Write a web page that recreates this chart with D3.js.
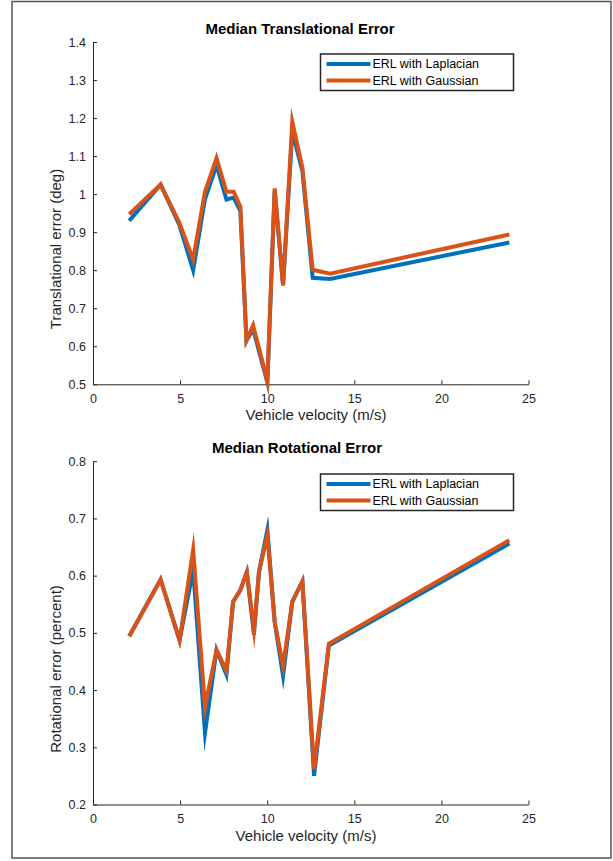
<!DOCTYPE html>
<html><head><meta charset="utf-8">
<script src="https://cdn.jsdelivr.net/npm/d3@7"></script>
<style>
body{margin:0;background:#fff;}
text{font-family:"Liberation Sans",Arial,Helvetica,sans-serif;}
</style></head>
<body><svg id="c" width="613" height="861"></svg>
<script>
// velocities (m/s)
const velTrans = [2.08,3.88,4.95,5.75,6.42,7.09,7.66,8.08,8.46,8.81,9.19,10.01,10.43,10.91,11.44,12.02,12.61,13.61,23.9];
const transLaplacian = [0.930,1.025,0.920,0.800,0.985,1.076,0.986,0.991,0.955,0.615,0.645,0.505,1.010,0.760,1.165,1.060,0.780,0.777,0.873];
const transGaussian  = [0.947,1.025,0.925,0.828,1.005,1.095,1.006,1.006,0.967,0.615,0.655,0.510,1.015,0.760,1.190,1.070,0.801,0.791,0.894];

const velRot = [2.08,3.88,4.97,5.75,6.43,7.09,7.66,8.04,8.46,8.83,9.24,9.53,10.01,10.43,10.91,11.44,12.02,12.69,13.54,23.9];
const rotLaplacian = [0.494,0.593,0.487,0.610,0.325,0.470,0.427,0.554,0.575,0.606,0.497,0.607,0.680,0.519,0.425,0.554,0.590,0.250,0.478,0.656];
const rotGaussian  = [0.494,0.593,0.487,0.645,0.370,0.470,0.434,0.554,0.575,0.606,0.505,0.607,0.670,0.519,0.442,0.554,0.590,0.262,0.481,0.662];

const xTicks = [0,5,10,15,20,25];
const transTicks = [0.5,0.6,0.7,0.8,0.9,1.0,1.1,1.2,1.3,1.4];
const rotTicks = [0.2,0.3,0.4,0.5,0.6,0.7,0.8];
const seriesNames = ["ERL with Laplacian","ERL with Gaussian"];
const colors = ["#0072BD","#D95319"];

const svg = d3.select("#c");
svg.append("rect").attr("x",12).attr("y",1.5).attr("width",599).attr("height",856.5)
  .attr("fill","none").attr("stroke","#555").attr("stroke-width",1.5);

const axCol = "#262626";
const x = d3.scaleLinear().domain([0,25]).range([93,528.5]);

function panel(opts){
  const y = d3.scaleLinear().domain(opts.domain).range([opts.bottom, opts.top]);
  const g = svg.append("g");
  const xa = g.append("g").attr("transform",`translate(0,${opts.bottom})`)
    .call(d3.axisBottom(x).tickValues(xTicks).tickFormat(d3.format("d")).tickSizeInner(-4).tickSizeOuter(0).tickPadding(8));
  const ya = g.append("g").attr("transform",`translate(${x.range()[0]},0)`)
    .call(d3.axisLeft(y).tickValues(opts.ticks).tickFormat(d=>d3.format("")(+d.toFixed(1))).tickSizeInner(-4).tickSizeOuter(0).tickPadding(7));
  [xa,ya].forEach(a=>{
    a.select(".domain").attr("stroke",axCol).attr("stroke-width",1);
    a.selectAll(".tick line").attr("stroke",axCol);
    a.selectAll(".tick text").attr("fill",axCol).attr("font-size",12.5);
  });
  xa.selectAll(".tick text").attr("dy","0.85em");
  const line = d3.line().x((d,i)=>x(opts.vel[i])).y(d=>y(d));
  opts.series.forEach((s,k)=>{
    g.append("path").datum(s).attr("d",line).attr("fill","none")
      .attr("stroke",colors[k]).attr("stroke-width",4)
      .attr("stroke-linejoin","miter").attr("stroke-miterlimit",10);
  });
  g.append("text").attr("x",opts.titleX).attr("y",opts.top-8)
    .attr("text-anchor","middle").attr("font-weight","bold").attr("font-size",15).attr("fill","#000").text(opts.title);
  g.append("text").attr("x",opts.xlabelX).attr("y",opts.bottom+36)
    .attr("text-anchor","middle").attr("font-size",15).attr("fill",axCol).text("Vehicle velocity (m/s)");
  g.append("text").attr("transform",`translate(61,${opts.ylabelY}) rotate(-90)`)
    .attr("text-anchor","middle").attr("font-size",15).attr("fill",axCol).text(opts.ylabel);
  const lg = g.append("g").attr("transform",`translate(320.5,${opts.legTop})`);
  lg.append("rect").attr("width",193).attr("height",36.5).attr("fill","#fff")
    .attr("stroke",axCol).attr("stroke-width",1.5);
  seriesNames.forEach((n,k)=>{
    const yy = 10 + k*16.5;
    lg.append("line").attr("x1",6).attr("x2",50).attr("y1",yy).attr("y2",yy)
      .attr("stroke",colors[k]).attr("stroke-width",4);
    lg.append("text").attr("x",52).attr("y",yy).attr("dy","0.35em")
      .attr("font-size",12.5).attr("fill","#000").text(n);
  });
}

panel({domain:[0.5,1.4], top:42, bottom:384.3, ticks:transTicks, vel:velTrans,
  series:[transLaplacian,transGaussian], title:"Median Translational Error",
  ylabel:"Translational error (deg)", legTop:54, titleX:300, xlabelX:316, ylabelY:249});
panel({domain:[0.2,0.8], top:461.2, bottom:804.5, ticks:rotTicks, vel:velRot,
  series:[rotLaplacian,rotGaussian], title:"Median Rotational Error",
  ylabel:"Rotational error (percent)", legTop:474, titleX:297, xlabelX:306, ylabelY:669});
</script></body></html>
